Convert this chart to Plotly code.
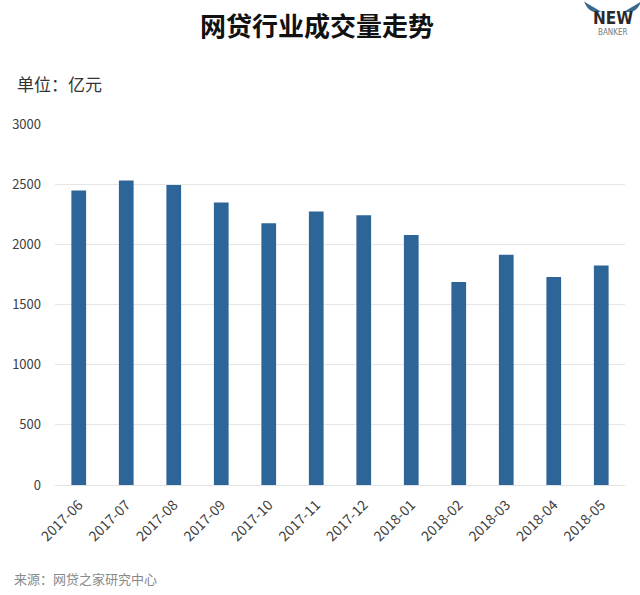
import plotly.graph_objects as go

months = ["2017-06", "2017-07", "2017-08", "2017-09", "2017-10", "2017-11",
          "2017-12", "2018-01", "2018-02", "2018-03", "2018-04", "2018-05"]
volume = [2448, 2530, 2494, 2347, 2176, 2272, 2241, 2078, 1686, 1914, 1728, 1825]
y_ticks = [0, 500, 1000, 1500, 2000, 2500, 3000]

FONT = "Noto Sans CJK SC"
L, T, PW, PH = 50, 124, 575, 361


def px(x):
    return (x - L) / PW


def py(y):
    return (T + PH - y) / PH


fig = go.Figure(go.Bar(
    x=months, y=volume,
    marker=dict(color="#2e6598", line=dict(width=0)),
    hoverinfo="x+y",
))

fig.update_layout(
    width=640, height=595,
    margin=dict(l=L, r=640 - L - PW, t=T, b=595 - T - PH),
    paper_bgcolor="white", plot_bgcolor="white",
    bargap=0.69,
    showlegend=False,
    font=dict(family=FONT, color="#404040"),
)
fig.update_xaxes(
    type="category", tickangle=-45,
    tickfont=dict(size=14, color="#404040", family=FONT),
    showgrid=False, showline=False, ticks="", ticklabelstandoff=8,
)
fig.update_yaxes(
    range=[0, 3000], tickvals=y_ticks,
    tickfont=dict(size=13, color="#404040", family=FONT),
    showgrid=True, gridcolor="#e6e6e6", gridwidth=1,
    zeroline=True, zerolinecolor="#e2e2e2", zerolinewidth=1,
    showline=False, ticks="", ticklabelstandoff=13,
)

fig.add_annotation(text="<b>网贷行业成交量走势</b>", xref="paper", yref="paper",
                   x=px(314), y=py(24), xanchor="center", yanchor="middle",
                   showarrow=False, font=dict(size=26, color="#111111", family=FONT))
fig.add_annotation(text="单位：亿元", xref="paper", yref="paper",
                   x=px(10), y=py(84), xanchor="left", yanchor="middle",
                   showarrow=False, font=dict(size=17, color="#333333", family=FONT))
fig.add_annotation(text="来源：网贷之家研究中心", xref="paper", yref="paper",
                   x=px(7), y=py(578), xanchor="left", yanchor="middle",
                   showarrow=False, font=dict(size=13, color="#8a8a8a", family=FONT))
# logo
fig.add_annotation(text="<b>NEW</b>", xref="paper", yref="paper",
                   x=px(613), y=py(18), xanchor="center", yanchor="middle",
                   showarrow=False, font=dict(size=17, color="#2a2a2a", family="Liberation Sans Narrow, DejaVu Sans Condensed"))
fig.add_annotation(text="BANKER", xref="paper", yref="paper",
                   x=px(613), y=py(33), xanchor="center", yanchor="middle",
                   showarrow=False, font=dict(size=8, color="#777777", family="Liberation Sans Narrow, DejaVu Sans Condensed"))
fig.add_shape(type="path", xref="paper", yref="paper",
              path="M %f %f Q %f %f %f %f Z" % (px(586), py(4), px(590), py(12), px(598), py(11)),
              fillcolor="#3b6a8f", line=dict(color="#3b6a8f", width=2))
fig.add_shape(type="path", xref="paper", yref="paper",
              path="M %f %f Q %f %f %f %f Z" % (px(639), py(4), px(635), py(12), px(627), py(11)),
              fillcolor="#3b6a8f", line=dict(color="#3b6a8f", width=2))

fig.write_html("out.html", config={"displayModeBar": False},
               post_script="document.body.style.margin='0';")
